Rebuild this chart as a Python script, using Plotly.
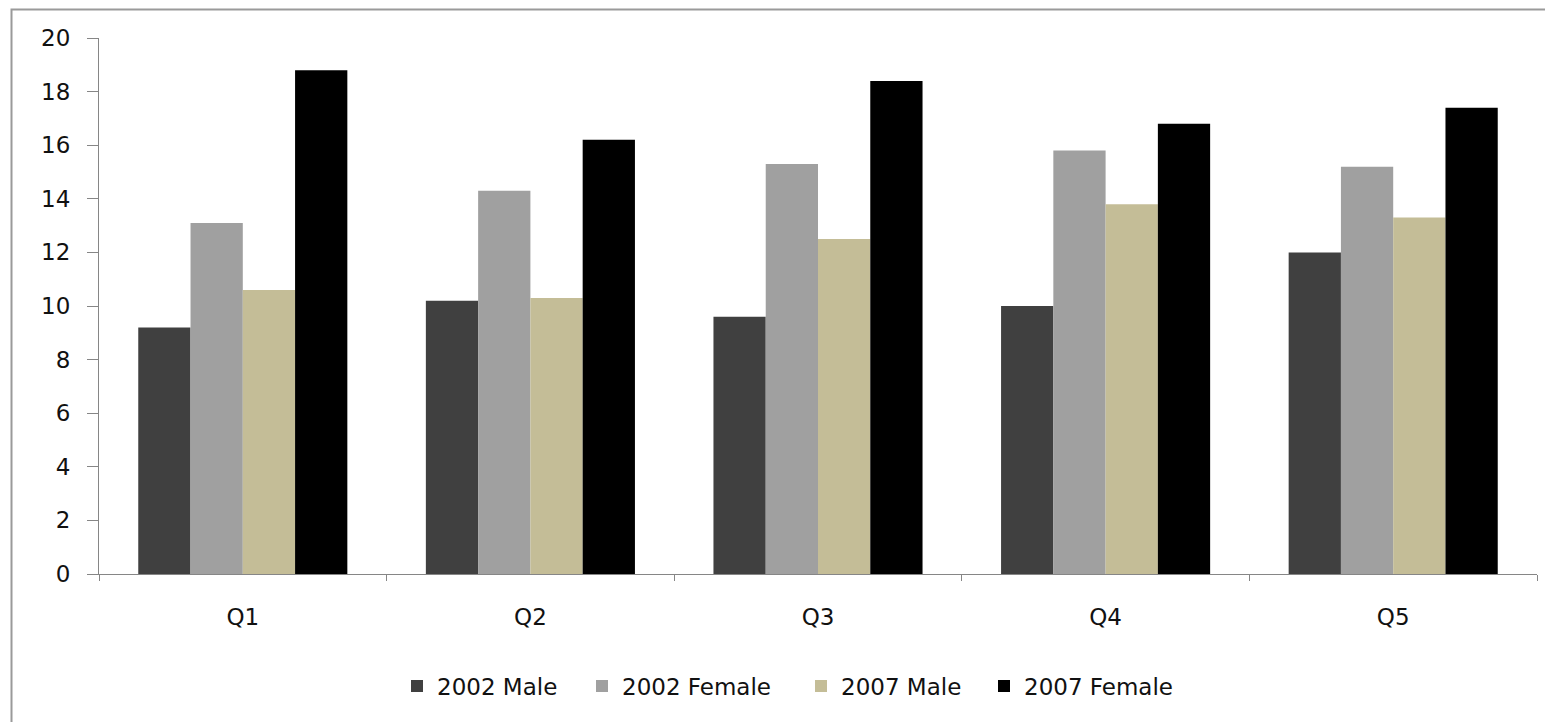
import plotly.graph_objects as go

categories = ["Q1", "Q2", "Q3", "Q4", "Q5"]
male_2002 = [9.2, 10.2, 9.6, 10.0, 12.0]
female_2002 = [13.1, 14.3, 15.3, 15.8, 15.2]
male_2007 = [10.6, 10.3, 12.5, 13.8, 13.3]
female_2007 = [18.8, 16.2, 18.4, 16.8, 17.4]
y_ticks = [0, 2, 4, 6, 8, 10, 12, 14, 16, 18, 20]

series_names = ["2002 Male", "2002 Female", "2007 Male", "2007 Female"]
series_values = [male_2002, female_2002, male_2007, female_2007]
series_colors = ["#404040", "#A0A0A0", "#C4BD97", "#000000"]

OFF = 8  # page body margin in the photographed page
W, H = 1553 - OFF, 722 - OFF
L, R, T, B = 99 - OFF, 1537 - OFF, 38 - OFF, 574 - OFF
pw, ph = R - L, B - T

def px_x(x):
    return (x - OFF - L) / pw

def px_y(y):
    return (B - (y - OFF)) / ph

FONT = "'DejaVu Sans', Verdana, sans-serif"
TXT = "#111111"

# legend text start positions (screen px)
legend_text_x = [433, 618, 837, 1020]
legend_keys = ["legend", "legend2", "legend3", "legend4"]

fig = go.Figure()
for name, vals, color, lk in zip(series_names, series_values, series_colors, legend_keys):
    fig.add_trace(go.Bar(x=categories, y=vals, name=name, legend=lk,
                         marker=dict(color=color, line=dict(width=0))))

layout_legends = {}
for lk, tx in zip(legend_keys, legend_text_x):
    layout_legends[lk] = dict(orientation="h", x=px_x(tx - 36), xanchor="left",
                              y=px_y(686), yanchor="middle",
                              font=dict(family=FONT, size=23, color=TXT),
                              itemwidth=30, bgcolor="rgba(0,0,0,0)",
                              borderwidth=0)

fig.update_layout(
    width=W, height=H,
    margin=dict(l=L, r=W - R, t=T, b=H - B, autoexpand=False),
    paper_bgcolor="white", plot_bgcolor="white",
    barmode="group", bargap=0.273, bargroupgap=0,
    font=dict(family=FONT, color=TXT, size=23),
    showlegend=True,
    xaxis=dict(showline=True, linecolor="#868686", linewidth=1.2,
               ticks="outside", ticklen=6, tickcolor="#868686",
               tickson="boundaries", showgrid=False,
               tickfont=dict(family=FONT, size=23, color=TXT),
               ticklabelstandoff=22, fixedrange=True),
    yaxis=dict(range=[0, 20], tickvals=y_ticks, showline=True,
               linecolor="#868686", linewidth=1.2,
               ticks="outside", ticklen=11, tickcolor="#868686",
               showgrid=False, zeroline=False,
               tickfont=dict(family=FONT, size=23, color=TXT),
               ticklabelstandoff=12, fixedrange=True),
    **layout_legends,
)

fig.add_shape(type="rect", xref="paper", yref="paper",
              x0=px_x(11.5), x1=px_x(1600), y0=px_y(780), y1=px_y(9.5),
              line=dict(color="#9a9a9a", width=2), fillcolor="rgba(0,0,0,0)",
              layer="below")

fig.write_html("out.html")
